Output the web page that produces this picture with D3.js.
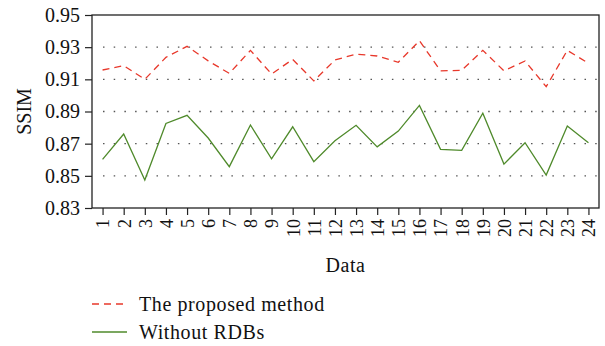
<!DOCTYPE html>
<html>
<head>
<meta charset="utf-8">
<script src="https://cdn.jsdelivr.net/npm/d3@7"></script>
<style>
  body { margin: 0; background: #fff; }
  svg text { font-family: "Liberation Serif", "DejaVu Serif", serif; fill: #111; }
</style>
</head>
<body>
<div class="chart"></div>
<script>
var categories = d3.range(1, 25);
var proposed = [0.9158, 0.9185, 0.9100, 0.9237, 0.9305, 0.9215, 0.9137, 0.9280, 0.9133, 0.9224,
                0.9090, 0.9220, 0.9257, 0.9245, 0.9206, 0.9340, 0.9153, 0.9156, 0.9280, 0.9153,
                0.9214, 0.9054, 0.9280, 0.9200];
var withoutRDBs = [0.8602, 0.8760, 0.8474, 0.8826, 0.8876, 0.8735, 0.8557, 0.8816, 0.8606, 0.8805,
                   0.8588, 0.8718, 0.8814, 0.8680, 0.8778, 0.8938, 0.8665, 0.8658, 0.8889, 0.8573,
                   0.8706, 0.8505, 0.8810, 0.8706];
var yTicks = [0.83, 0.85, 0.87, 0.89, 0.91, 0.93, 0.95];
var gridTicks = [0.85, 0.87, 0.89, 0.91, 0.93];
var seriesNames = ["The proposed method", "Without RDBs"];

var width = 605, height = 346;
var m = { left: 92, right: 599, top: 15, bottom: 208 };

var svg = d3.select(".chart").append("svg")
    .attr("width", width)
    .attr("height", height);

var x = d3.scaleLinear().domain([0.5, 24.5]).range([m.left, m.right]);
var y = d3.scaleLinear().domain([0.83, 0.95]).range([m.bottom, m.top]);

// dotted grid
svg.selectAll(".grid")
    .data(gridTicks)
    .enter()
    .append("line")
    .attr("x1", m.left + 11)
    .attr("x2", m.right)
    .attr("y1", function (d) { return y(d); })
    .attr("y2", function (d) { return y(d); })
    .attr("stroke", "#555")
    .attr("stroke-width", 1.3)
    .attr("stroke-dasharray", "1.5,9.2");

// axes
var yAxis = svg.append("g")
    .attr("transform", "translate(" + m.left + ",0)")
    .call(d3.axisLeft(y).tickValues(yTicks).tickFormat(d3.format(".2f")).tickSize(7).tickPadding(5));
yAxis.select(".domain").remove();
yAxis.selectAll("line").attr("stroke", "#222").attr("stroke-width", 1.2);
yAxis.selectAll("text").style("font-size", "20px").attr("fill", "#111")
    .style("font-family", "Liberation Serif, serif");

var xAxis = svg.append("g")
    .attr("transform", "translate(0," + m.bottom + ")")
    .call(d3.axisBottom(x).tickValues(categories).tickFormat(d3.format("d")).tickSize(7));
xAxis.select(".domain").remove();
xAxis.selectAll("line").attr("stroke", "#222").attr("stroke-width", 1.2);
xAxis.selectAll("text")
    .style("font-size", "18px")
    .style("font-family", "Liberation Serif, serif")
    .attr("fill", "#111")
    .attr("transform", "rotate(-90)")
    .attr("text-anchor", "end")
    .attr("dy", "0.35em")
    .attr("y", 0)
    .attr("x", -11);

// frame
svg.append("rect")
    .attr("x", m.left)
    .attr("y", m.top)
    .attr("width", m.right - m.left)
    .attr("height", m.bottom - m.top)
    .attr("fill", "none")
    .attr("stroke", "#222")
    .attr("stroke-width", 1.3);

var line = d3.line()
    .x(function (d, i) { return x(categories[i]); })
    .y(function (d) { return y(d); });

svg.append("path")
    .datum(proposed)
    .attr("d", line)
    .attr("fill", "none")
    .attr("stroke", "#e8382b")
    .attr("stroke-width", 1.3)
    .attr("stroke-dasharray", "7,5");

svg.append("path")
    .datum(withoutRDBs)
    .attr("d", line)
    .attr("fill", "none")
    .attr("stroke", "#4f8a2b")
    .attr("stroke-width", 1.3);

// axis titles
svg.append("text")
    .attr("x", (m.left + m.right) / 2)
    .attr("y", 272)
    .attr("text-anchor", "middle")
    .style("font-size", "20px")
    .style("letter-spacing", "0.5px")
    .text("Data");

svg.append("text")
    .attr("transform", "translate(31," + ((m.top + m.bottom) / 2) + ") rotate(-90)")
    .attr("text-anchor", "middle")
    .style("font-size", "20px")
    .text("SSIM");

// legend
var legend = svg.selectAll(".legend")
    .data(seriesNames)
    .enter()
    .append("g")
    .attr("transform", function (d, i) { return "translate(92," + (304 + i * 28) + ")"; });

legend.append("line")
    .attr("x1", 0)
    .attr("x2", 35)
    .attr("stroke", function (d, i) { return i === 0 ? "#e8382b" : "#4f8a2b"; })
    .attr("stroke-width", 1.3)
    .attr("stroke-dasharray", function (d, i) { return i === 0 ? "7,5" : null; });

legend.append("text")
    .attr("x", 47)
    .attr("y", 7)
    .style("font-size", "20px")
    .style("letter-spacing", "0.6px")
    .text(function (d) { return d; });
</script>
</body>
</html>
